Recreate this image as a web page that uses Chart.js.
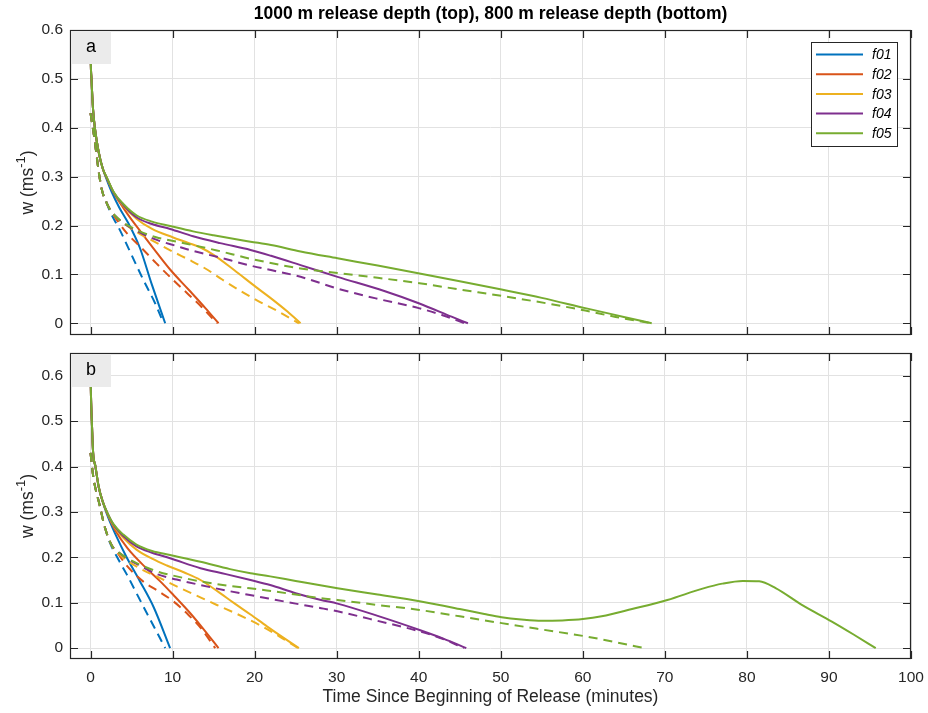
<!DOCTYPE html>
<html><head><meta charset="utf-8">
<script src="https://cdn.jsdelivr.net/npm/chart.js@4/dist/chart.umd.min.js"></script>
<style>
html,body{margin:0;padding:0;background:#fff;}
#wrap{position:relative;width:928px;height:713px;overflow:hidden;}
canvas{position:absolute;left:0;}
#cA{top:0;width:928px;height:345px;}
#cB{top:345px;width:928px;height:368px;}
</style></head><body>
<div id="wrap"><canvas id="cA" width="928" height="345"></canvas><canvas id="cB" width="928" height="368"></canvas></div>
<script>
// ---------------- DATA ----------------
const seriesNames = ['f01','f02','f03','f04','f05'];
const xTicks = [0,10,20,30,40,50,60,70,80,90,100];
const yTicksTop = [0,0.1,0.2,0.3,0.4,0.5,0.6];
const yTicksBottom = [0,0.1,0.2,0.3,0.4,0.5,0.6];
const titleText = '1000 m release depth (top), 800 m release depth (bottom)';
const xLabelText = 'Time Since Beginning of Release (minutes)';
const panelLabels = ['a','b'];

// Panel a (1000 m) - solid lines [time (min), w]
const top_f01_solid = [[0,0.6],[0.03,0.54],[0.12,0.5],[0.3,0.44],[0.53,0.4],[1.0,0.35],[1.5,0.316],[2.0,0.293],[2.6,0.268],[3.5,0.237],[4.6,0.205],[6,0.155],[7.5,0.078],[9.1,0]];
const top_f02_solid = [[0,0.6],[0.03,0.54],[0.12,0.5],[0.3,0.44],[0.53,0.4],[1.0,0.35],[1.5,0.316],[2.0,0.296],[3,0.262],[4,0.236],[5,0.212],[6,0.19],[7.5,0.157],[9.7,0.11],[12,0.068],[14,0.031],[15.6,0]];
const top_f03_solid = [[0,0.6],[0.03,0.54],[0.12,0.5],[0.3,0.44],[0.53,0.4],[1.0,0.35],[1.5,0.316],[2.0,0.297],[2.8,0.268],[4,0.24],[5.6,0.214],[7.5,0.193],[10,0.176],[12,0.164],[13.4,0.155],[15,0.14],[17.5,0.109],[20.1,0.075],[22,0.051],[24,0.024],[25.6,0]];
const top_f04_solid = [[0,0.6],[0.03,0.54],[0.12,0.5],[0.3,0.44],[0.53,0.4],[1.0,0.35],[1.5,0.316],[2.0,0.297],[2.8,0.268],[4,0.242],[5.6,0.217],[7.5,0.203],[9.7,0.193],[12.5,0.178],[15.8,0.164],[19.5,0.15],[22,0.138],[25.6,0.119],[30.1,0.095],[35.8,0.066],[40,0.041],[44,0.0135],[46,0]];
const top_f05_solid = [[0,0.6],[0.03,0.54],[0.12,0.5],[0.3,0.44],[0.53,0.4],[1.0,0.35],[1.5,0.316],[2.0,0.298],[2.8,0.269],[4,0.244],[5.6,0.221],[7.5,0.208],[9.7,0.199],[12.5,0.188],[15,0.18],[19.5,0.167],[22,0.16],[25.6,0.147],[30.1,0.133],[35,0.118],[40.1,0.102],[45,0.086],[50.1,0.069],[55,0.052],[60.3,0.031],[65,0.013],[68.4,0]];
// Panel a - dashed lines
const top_f01_dash = [[0,0.43],[0.5,0.375],[1.0,0.31],[1.4,0.272],[2.0,0.245],[2.4,0.228],[3.6,0.19],[5,0.14],[6.4,0.09],[7.9,0.04],[8.9,0]];
const top_f02_dash = [[0,0.43],[0.5,0.375],[1.0,0.31],[1.4,0.272],[2.0,0.245],[2.4,0.232],[3.4,0.207],[4.5,0.183],[6.4,0.151],[8,0.123],[10.1,0.088],[12,0.058],[13.4,0.036],[15.4,0]];
const top_f03_dash = [[0,0.43],[0.5,0.375],[1.0,0.31],[1.4,0.272],[2.0,0.245],[2.4,0.232],[3,0.219],[4.5,0.199],[6,0.183],[8,0.165],[10.1,0.146],[12,0.13],[14.2,0.11],[16,0.09],[18.3,0.066],[20.5,0.045],[22.8,0.025],[25.4,0]];
const top_f04_dash = [[0,0.43],[0.5,0.375],[1.0,0.31],[1.4,0.272],[2.0,0.245],[2.4,0.232],[3,0.22],[4,0.205],[6,0.186],[8,0.171],[10.5,0.158],[12.5,0.148],[15.4,0.136],[19.5,0.118],[25.6,0.095],[30.1,0.071],[35,0.05],[40,0.031],[43,0.016],[45.6,0]];
const top_f05_dash = [[0,0.43],[0.5,0.375],[1.0,0.31],[1.4,0.272],[2.0,0.245],[2.4,0.232],[3,0.22],[4,0.206],[6,0.188],[8,0.176],[10.5,0.167],[15.4,0.149],[19.5,0.132],[25.6,0.112],[30.1,0.103],[35,0.093],[40.1,0.082],[45,0.069],[50.1,0.056],[56.2,0.039],[60.3,0.026],[64,0.013],[68.4,0]];

// Panel b (800 m) - solid lines
const bot_f01_solid = [[0,0.64],[0.04,0.573],[0.16,0.5],[0.32,0.43],[0.6,0.4],[1.0,0.355],[1.5,0.322],[2.0,0.295],[3,0.252],[4.4,0.2],[6,0.148],[7.7,0.09],[9.7,0]];
const bot_f02_solid = [[0,0.64],[0.04,0.573],[0.16,0.5],[0.32,0.43],[0.6,0.4],[1.0,0.355],[1.5,0.322],[2.0,0.298],[3,0.26],[4.5,0.22],[6.85,0.175],[8.5,0.147],[10.1,0.117],[12,0.08],[13.4,0.05],[15.6,0]];
const bot_f03_solid = [[0,0.64],[0.04,0.573],[0.16,0.5],[0.32,0.43],[0.6,0.4],[1.0,0.355],[1.5,0.322],[2.0,0.299],[2.8,0.27],[4,0.243],[5.6,0.217],[7.5,0.197],[9.3,0.182],[11.5,0.166],[13.4,0.15],[15.5,0.125],[17.5,0.099],[19.5,0.074],[21.5,0.048],[23.5,0.023],[25.4,0]];
const bot_f04_solid = [[0,0.64],[0.04,0.573],[0.16,0.5],[0.32,0.43],[0.6,0.4],[1.0,0.355],[1.5,0.322],[2.0,0.3],[2.8,0.272],[4,0.247],[5.6,0.224],[7.5,0.21],[9.7,0.198],[13.4,0.176],[16.5,0.163],[19.5,0.15],[21.9,0.139],[25,0.121],[28.1,0.106],[30.1,0.098],[35,0.071],[40.1,0.04],[43,0.021],[45.8,0]];
const bot_f05_solid = [[0,0.64],[0.04,0.573],[0.16,0.5],[0.32,0.43],[0.6,0.4],[1.0,0.355],[1.5,0.322],[2.0,0.3],[2.8,0.273],[4,0.25],[5.6,0.228],[7.5,0.214],[9.7,0.205],[13.4,0.19],[17,0.174],[19.5,0.165],[21.9,0.158],[25,0.148],[30.1,0.132],[35,0.118],[40.1,0.103],[45,0.086],[48,0.075],[50.1,0.068],[52.5,0.063],[55,0.06],[57.5,0.061],[60,0.064],[62.3,0.07],[66,0.086],[70.3,0.106],[74.6,0.131],[77,0.142],[79.5,0.148],[81.5,0.147],[83.5,0.132],[86.8,0.094],[90.3,0.059],[93,0.03],[95.7,0]];
// Panel b - dashed lines
const bot_f01_dash = [[0,0.43],[0.35,0.376],[1.1,0.316],[1.75,0.266],[2.3,0.235],[3.4,0.195],[4.4,0.163],[6.4,0.093],[7.8,0.045],[9.1,0]];
const bot_f02_dash = [[0,0.43],[0.35,0.376],[1.1,0.316],[1.75,0.266],[2.6,0.226],[3.2,0.212],[4.5,0.18],[6.4,0.147],[8.2,0.126],[10.1,0.103],[12,0.072],[13.4,0.045],[15.2,0]];
const bot_f03_dash = [[0,0.43],[0.35,0.376],[1.1,0.316],[1.75,0.266],[2.6,0.226],[3.5,0.207],[4.5,0.192],[6.4,0.172],[8.5,0.154],[10.5,0.136],[13,0.115],[15.4,0.095],[18,0.074],[20.7,0.05],[23,0.026],[25.3,0]];
const bot_f04_dash = [[0,0.43],[0.35,0.376],[1.1,0.316],[1.75,0.266],[2.6,0.226],[3.5,0.21],[4.5,0.197],[6,0.182],[8.1,0.163],[10.5,0.151],[13.4,0.139],[16.5,0.127],[20.3,0.114],[25,0.098],[28.1,0.088],[30.1,0.081],[35,0.06],[40.1,0.037],[43,0.02],[45.5,0]];
const bot_f05_dash = [[0,0.43],[0.35,0.376],[1.1,0.316],[1.75,0.266],[2.6,0.226],[3.5,0.21],[4.5,0.198],[6,0.184],[8.1,0.169],[10.5,0.158],[13.4,0.147],[17,0.137],[21.5,0.127],[25,0.118],[28.1,0.11],[30.1,0.106],[35,0.095],[40.1,0.084],[45,0.07],[50.1,0.055],[55,0.041],[60.3,0.026],[64,0.013],[67.5,0]];

// ---------------- STYLE ----------------
const colors = ['#0072BD','#D95319','#EDB120','#7E2F8E','#77AC30'];
const FONT = '"Liberation Sans", Arial, Helvetica, sans-serif';
const INK = '#262626';
const GRID = '#e2e2e2';
const TICK_PX = 15.5, LABEL_PX = 17.5, TITLE_PX = 17.5;

const topSolid = [top_f01_solid, top_f02_solid, top_f03_solid, top_f04_solid, top_f05_solid];
const topDash  = [top_f01_dash, top_f02_dash, top_f03_dash, top_f04_dash, top_f05_dash];
const botSolid = [bot_f01_solid, bot_f02_solid, bot_f03_solid, bot_f04_solid, bot_f05_solid];
const botDash  = [bot_f01_dash, bot_f02_dash, bot_f03_dash, bot_f04_dash, bot_f05_dash];

function toXY(arr){ return arr.map(p => ({x:p[0], y:p[1]})); }

function buildDatasets(solid, dash){
  const ds = [];
  for (let i = 0; i < seriesNames.length; i++) {
    ds.push({label: seriesNames[i], data: toXY(solid[i]), borderColor: colors[i], borderWidth: 2,
      pointRadius: 0, fill: false, cubicInterpolationMode: 'monotone', borderDash: []});
    ds.push({label: seriesNames[i] + ' (dashed)', data: toXY(dash[i]), borderColor: colors[i], borderWidth: 2,
      pointRadius: 0, fill: false, cubicInterpolationMode: 'monotone', borderDash: [9, 6]});
  }
  return ds.reverse();
}

function zeroPad(s){ s.paddingTop = 0; s.paddingBottom = 0; s.paddingLeft = 0; s.paddingRight = 0; }

function decor(cfg){
  return {
    id: 'decor' + cfg.panel,
    afterDatasetsDraw(chart){
      const ctx = chart.ctx, a = chart.chartArea;
      const xs = chart.scales.x, ys = chart.scales.y;
      ctx.save();
      ctx.strokeStyle = INK; ctx.lineWidth = 1.2;
      ctx.strokeRect(a.left + 0.5, a.top + 0.5, a.right - a.left - 1, a.bottom - a.top - 1);
      const TL = 8;
      ctx.beginPath();
      xTicks.forEach(v => {
        const p = Math.round(xs.getPixelForValue(v)) + 0.5;
        ctx.moveTo(p, a.bottom); ctx.lineTo(p, a.bottom - TL);
        ctx.moveTo(p, a.top); ctx.lineTo(p, a.top + TL);
      });
      cfg.yTicks.forEach(v => {
        const p = Math.round(ys.getPixelForValue(v)) + 0.5;
        ctx.moveTo(a.left, p); ctx.lineTo(a.left + TL, p);
        ctx.moveTo(a.right, p); ctx.lineTo(a.right - TL, p);
      });
      ctx.stroke();
      // panel label box
      ctx.fillStyle = '#ebebeb';
      ctx.fillRect(a.left + 1, a.top + 1, 40, 33);
      ctx.fillStyle = '#000';
      ctx.font = '18px ' + FONT;
      ctx.textAlign = 'center'; ctx.textBaseline = 'middle';
      ctx.fillText(cfg.label, a.left + 21, a.top + 17.5);
      // legend
      if (cfg.legend) {
        const lx = 811, ly = 42, lw = 86, lh = 104;
        ctx.fillStyle = '#fff';
        ctx.fillRect(lx, ly, lw, lh);
        ctx.strokeStyle = INK; ctx.lineWidth = 1;
        ctx.strokeRect(lx + 0.5, ly + 0.5, lw, lh);
        ctx.font = 'italic 14px ' + FONT;
        ctx.textAlign = 'left'; ctx.textBaseline = 'middle';
        seriesNames.forEach((n, i) => {
          const y = 54.5 + i * 19.7;
          ctx.strokeStyle = colors[i]; ctx.lineWidth = 2;
          ctx.beginPath(); ctx.moveTo(816, y); ctx.lineTo(863, y); ctx.stroke();
          ctx.fillStyle = '#000';
          ctx.fillText(n, 872, y + 1);
        });
      }
      const cx = (a.left + a.right) / 2;
      if (cfg.title) {
        ctx.fillStyle = '#000';
        ctx.font = 'bold ' + TITLE_PX + 'px ' + FONT;
        ctx.textAlign = 'center'; ctx.textBaseline = 'middle';
        ctx.fillText(cfg.title, cx, 14);
      }
      if (cfg.xlabel) {
        ctx.fillStyle = INK;
        ctx.font = LABEL_PX + 'px ' + FONT;
        ctx.textAlign = 'center'; ctx.textBaseline = 'middle';
        ctx.fillText(cfg.xlabel, cx, a.bottom + 38);
      }
      // y label w (ms^-1)
      const cy = (a.top + a.bottom) / 2;
      ctx.translate(28, cy);
      ctx.rotate(-Math.PI / 2);
      ctx.fillStyle = INK;
      const f1 = LABEL_PX + 'px ' + FONT, f2 = Math.round(LABEL_PX * 0.72) + 'px ' + FONT;
      ctx.font = f1; const w1 = ctx.measureText('w (ms').width; const w3 = ctx.measureText(')').width;
      ctx.font = f2; const w2 = ctx.measureText('-1').width;
      const tot = w1 + w2 + w3;
      let x0 = -tot / 2;
      ctx.textAlign = 'left'; ctx.textBaseline = 'middle';
      ctx.font = f1; ctx.fillText('w (ms', x0, 0);
      ctx.font = f2; ctx.fillText('-1', x0 + w1, -7);
      ctx.font = f1; ctx.fillText(')', x0 + w1 + w2, 0);
      ctx.restore();
    }
  };
}

function makeChart(canvasId, solid, dash, cfg){
  return new Chart(document.getElementById(canvasId), {
    type: 'line',
    data: { datasets: buildDatasets(solid, dash) },
    options: {
      responsive: false, animation: false, devicePixelRatio: 1,
      layout: { padding: cfg.padding },
      plugins: { legend: { display: false }, tooltip: { enabled: false }, title: { display: false } },
      scales: {
        x: {
          type: 'linear', min: -2.5, max: 100,
          afterBuildTicks: s => { s.ticks = xTicks.map(v => ({value: v})); },
          afterFit: s => { s.height = cfg.xHeight; zeroPad(s); },
          border: { display: false },
          grid: { color: GRID, lineWidth: 1, drawTicks: false },
          ticks: { display: cfg.xLabels, color: INK, font: { family: FONT, size: TICK_PX }, padding: 9,
                   maxRotation: 0, autoSkip: false, callback: v => String(v) }
        },
        y: {
          type: 'linear', min: -0.024, max: cfg.yMax,
          afterBuildTicks: s => { s.ticks = cfg.yTicks.map(v => ({value: v})); },
          afterFit: s => { s.width = 70; zeroPad(s); },
          border: { display: false },
          grid: { color: GRID, lineWidth: 1, drawTicks: false },
          ticks: { color: INK, font: { family: FONT, size: TICK_PX }, padding: 7,
                   autoSkip: false, callback: v => String(+(+v).toFixed(2)) }
        }
      }
    },
    plugins: [decor(cfg)]
  });
}

makeChart('cA', topSolid, topDash, {
  panel: 'A', padding: {top: 30, right: 17, bottom: 10, left: 0}, xHeight: 0, xLabels: false,
  yMax: 0.6, yTicks: yTicksTop, label: panelLabels[0], legend: true, title: titleText
});
makeChart('cB', botSolid, botDash, {
  panel: 'B', padding: {top: 8, right: 17, bottom: 0, left: 0}, xHeight: 54, xLabels: true,
  yMax: 0.65, yTicks: yTicksBottom, label: panelLabels[1], legend: false, xlabel: xLabelText
});
</script>
</body></html>
